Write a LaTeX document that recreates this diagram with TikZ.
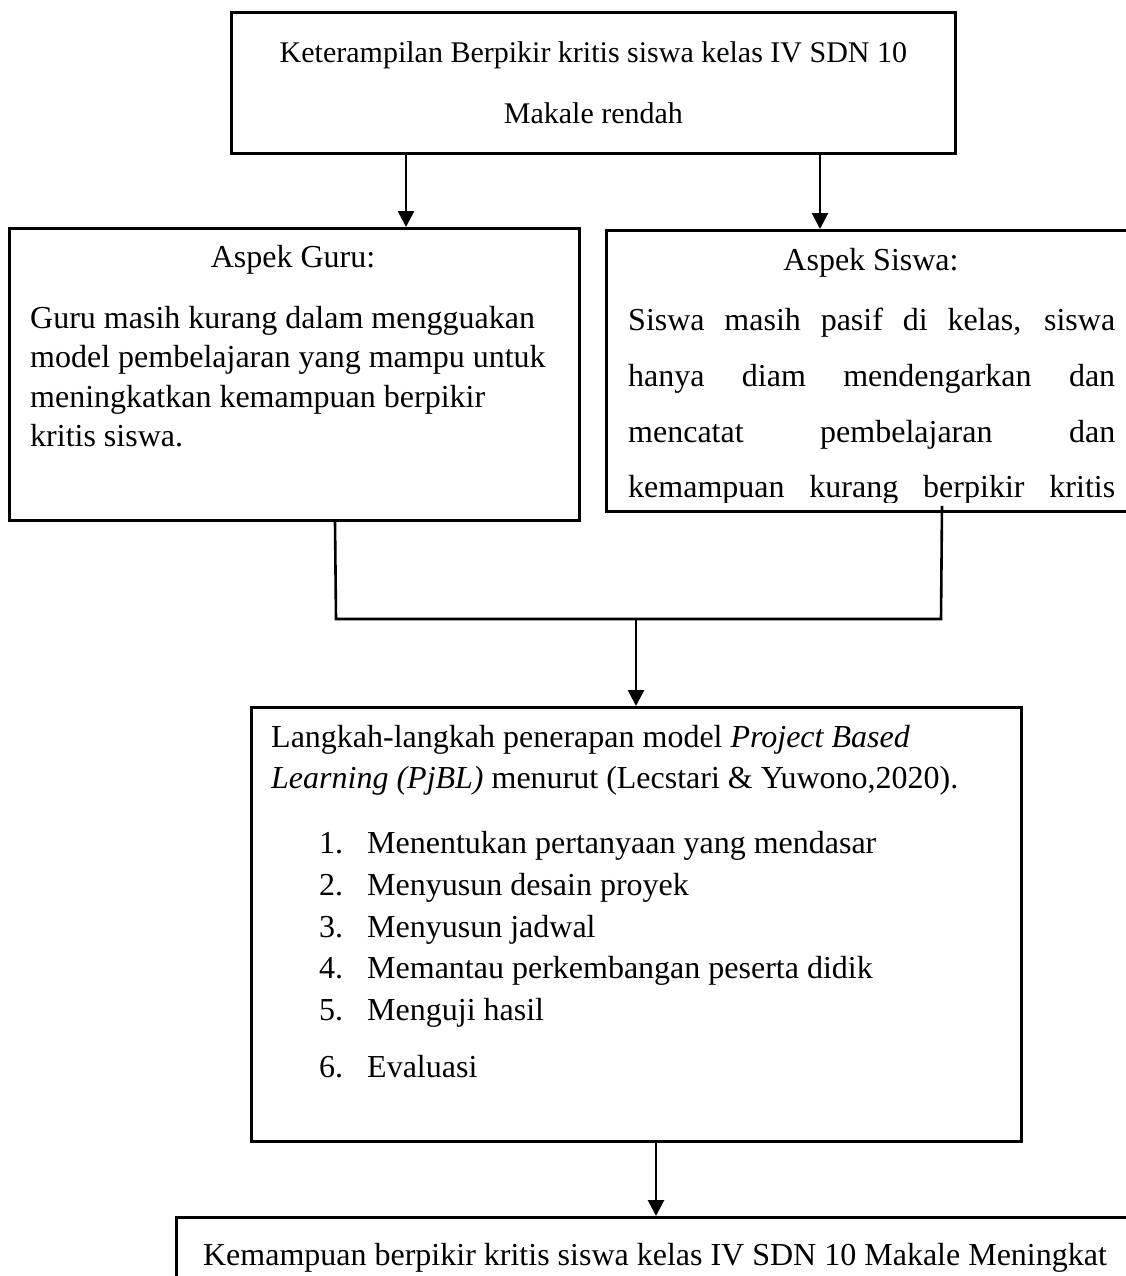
\documentclass[tikz,border=0pt]{standalone}
\usepackage{fontspec}
\setmainfont{Liberation Serif}
\usetikzlibrary{arrows.meta,positioning,calc}
\tikzset{
  >={Triangle[length=16pt,width=16pt]},
  every node/.style={text=black},
  frame/.style={draw,line width=2.8pt,anchor=north west,inner sep=0pt},
  txt/.style={inner sep=0pt,font=\fontsize{32}{40}\selectfont},
  arrow/.style={->,line width=2.8pt},
  link/.style={line width=2.6pt}
}

\begin{document}
\begin{tikzpicture}[x=1pt,y=-1pt]
  \useasboundingbox (0,0) rectangle (1126,1276);

  % problem
  \node[frame,minimum width=724pt,minimum height=141pt,align=center,font=\fontsize{30}{61}\selectfont] (prob) at (230,11) {Keterampilan Berpikir kritis siswa kelas IV SDN 10\\Makale rendah};

  % two aspects
  \node[frame,minimum width=570pt,minimum height=292pt] (guru) at (8,227) {};
  \node[txt,anchor=base] (gurutitle) at (293,267) {Aspek Guru:};
  \node[txt,anchor=north west,align=left,font=\fontsize{32}{39.5}\selectfont] (gurutext) at (30,306) {Guru masih kurang dalam mengguakan\\model pembelajaran yang mampu untuk\\meningkatkan kemampuan berpikir\\kritis siswa.};

  \node[frame,minimum width=530pt,minimum height=281pt] (siswa) at (605,229) {};
  \node[txt,anchor=base] (siswatitle) at (871,270) {Aspek Siswa:};
  \begin{scope}
    \clip (siswa.north west) rectangle ([yshift=10pt]siswa.south east);
    \node[txt,anchor=north west,align=left,font=\fontsize{32}{55.7}\selectfont] (siswatext) at (628,308) {\makebox[487pt][s]{Siswa masih pasif di kelas, siswa}\\\makebox[487pt][s]{hanya diam mendengarkan dan}\\\makebox[487pt][s]{mencatat pembelajaran dan}\\\makebox[487pt][s]{kemampuan kurang berpikir kritis}};
  \end{scope}

  \draw[arrow] ([xshift=176pt]prob.south west) -- ([xshift=176pt]prob.south west |- guru.north);
  \draw[arrow] ([xshift=590pt]prob.south west) -- ([xshift=590pt]prob.south west |- siswa.north);

  % join
  \coordinate (gL) at ([xshift=327pt]guru.south west);
  \coordinate (sR) at ([xshift=337pt,yshift=7pt]siswa.south west);
  \coordinate (jL) at (336,619);
  \coordinate (jR) at (941,619);
  \coordinate (jM) at (636,619);
  \draw[link] (gL) -- (jL) -- (jR) -- (sR);

  % steps of PjBL
  \node[frame,minimum width=770pt,minimum height=434pt] (steps) at (250,706) {};
  \draw[arrow] (jM) -- (jM |- steps.north);
  \node[txt,anchor=north west,align=left,font=\fontsize{32}{41}\selectfont] (stepsintro) at (271,725) {Langkah-langkah penerapan model \textit{Project Based}\\\textit{Learning (PjBL)} menurut (Lecstari \& Yuwono,2020).};
  \node[txt,anchor=base west] (step1) at (319,853) {\makebox[48pt][l]{1.}Menentukan pertanyaan yang mendasar};
  \node[txt,anchor=base west] (step2) at (319,895) {\makebox[48pt][l]{2.}Menyusun desain proyek};
  \node[txt,anchor=base west] (step3) at (319,937) {\makebox[48pt][l]{3.}Menyusun jadwal};
  \node[txt,anchor=base west] (step4) at (319,978) {\makebox[48pt][l]{4.}Memantau perkembangan peserta didik};
  \node[txt,anchor=base west] (step5) at (319,1020) {\makebox[48pt][l]{5.}Menguji hasil};
  \node[txt,anchor=base west] (step6) at (319,1077) {\makebox[48pt][l]{6.}Evaluasi};

  % result
  \node[frame,minimum width=1000pt,minimum height=100pt] (result) at (175,1216) {};
  \draw[arrow] ([xshift=406pt]steps.south west) -- ([xshift=406pt]steps.south west |- result.north);
  \node[txt,anchor=base] (resulttext) at (655,1265) {Kemampuan berpikir kritis siswa kelas IV SDN 10 Makale Meningkat};
\end{tikzpicture}
\end{document}
